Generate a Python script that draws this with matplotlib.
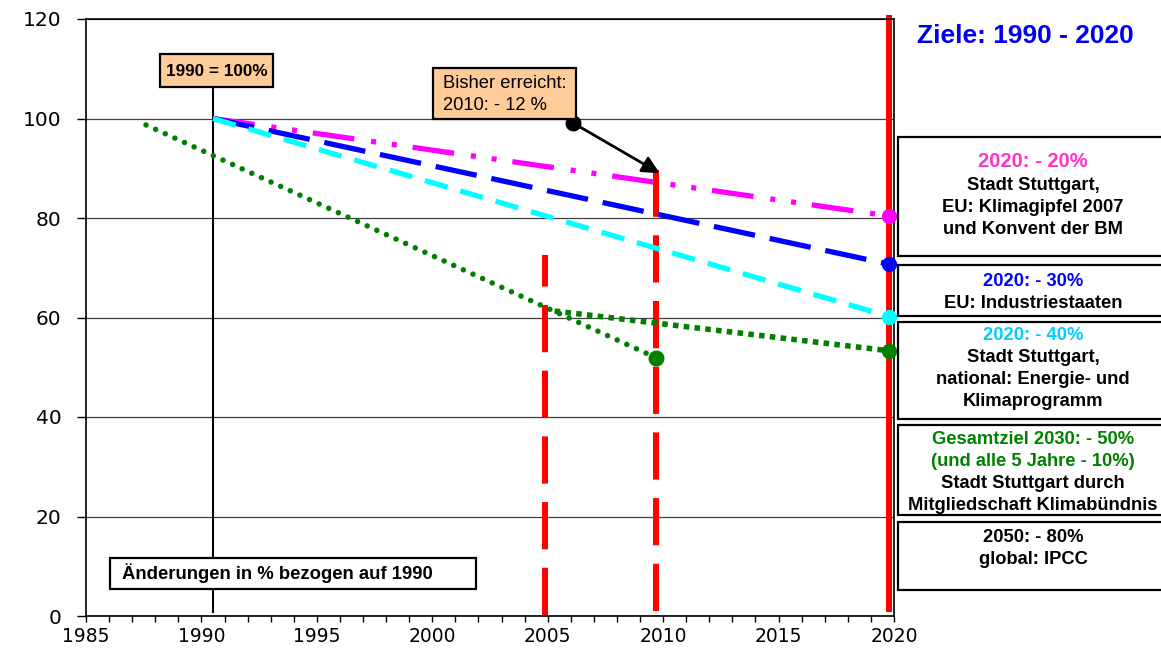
import matplotlib.pyplot as plt
from matplotlib.patches import Rectangle

plt.rcParams['lines.scale_dashes'] = False
plt.rcParams['font.family'] = ['Liberation Sans', 'DejaVu Sans']

# --- data (years, % of 1990) ---
goal_x = [1990.5, 2019.8]
goal_20 = [100, 80.4]
goal_30 = [100, 70.7]
goal_40 = [100, 60.2]

trend_x = [1987.6, 2009.7]
trend_y = [98.7, 51.9]
rest_x = [2005.3, 2019.8]
rest_y = [61.3, 53.3]

mark_2005_x = [2004.9, 2004.9]
mark_2005_y = [0.2, 72.6]
mark_2010_x = [2009.7, 2009.7]
mark_2010_y = [1.0, 89.6]
mark_2020_x = [2019.8, 2019.8]
mark_2020_y = [0.8, 120.8]
base_x = [1990.5, 1990.5]
base_y = [0.8, 106.3]

arrow_from = (2006.1, 99.1)
arrow_to = (2009.85, 89.0)

x_major = list(range(1985, 2021, 5))
x_minor = list(range(1985, 2021))
y_ticks = [0, 20, 40, 60, 80, 100, 120]

PINK_TXT = '#FF33CC'
CYAN_TXT = '#00CCFF'
GREEN = '#008000'
BLUE = '#0000FF'

W, H = 1161, 649
def fx(p):
    return p / W
def fy(p):
    return 1 - p / H

fig = plt.figure(figsize=(W / 100, H / 100), dpi=100)
ax = fig.add_axes([fx(86), fy(616), (894 - 86) / W, (616 - 19) / H])
ax.set_xlim(1985, 2020)
ax.set_ylim(0, 120)

for s in ax.spines.values():
    s.set_color('black')
    s.set_linewidth(1.2)

ax.set_yticks(y_ticks)
ax.set_xticks(x_major)
ax.set_xticks(x_minor, minor=True)
ax.tick_params(axis='y', length=6.5, width=1, pad=11, labelsize=14.5)
ax.tick_params(axis='x', which='both', length=4.5, width=1, pad=3.5, labelsize=13.5)
for lab in ax.get_xticklabels() + ax.get_yticklabels():
    lab.set_family('DejaVu Sans')
ax.yaxis.grid(True, color='#404040', lw=0.9)
ax.set_axisbelow(True)

# red year markers
ax.plot(mark_2005_x, mark_2005_y, color='red', lw=4.3, dashes=(34, 13.3),
        dash_capstyle='butt', zorder=2)
ax.plot(mark_2010_x, mark_2010_y, color='red', lw=4.3, dashes=(34, 13.3),
        dash_capstyle='butt', zorder=2)
ax.plot(mark_2020_x, mark_2020_y, color='red', lw=4.3, solid_capstyle='butt',
        zorder=2, clip_on=False)
ax.plot(base_x, base_y, color='black', lw=1.5, zorder=2)

# goal lines
ax.plot(goal_x, goal_20, color='#FF00FF', lw=3.8,
        dashes=(30.2, 12.2, 3.6, 11.5, 3.6, 11.5), dash_capstyle='butt', zorder=3)
ax.plot(goal_x, goal_30, color=BLUE, lw=3.8, dashes=(30.2, 10.8),
        dash_capstyle='butt', zorder=3)
ax.plot(goal_x, goal_40, color='#00FFFF', lw=3.8, dashes=(17, 9.5),
        dash_capstyle='butt', zorder=3)
ax.plot(trend_x, trend_y, color=GREEN, lw=4.0, dashes=(0.01, 7.6),
        dash_capstyle='round', zorder=3)
ax.plot(rest_x, rest_y, color=GREEN, lw=4.0, dashes=(4.0, 3.8),
        dash_capstyle='butt', zorder=3)

ax.plot(goal_x[-1], goal_20[-1], 'o', color='#FF00FF', ms=10, zorder=4, clip_on=False)
ax.plot(goal_x[-1], goal_30[-1], 'o', color=BLUE, ms=10, zorder=4, clip_on=False)
ax.plot(goal_x[-1], goal_40[-1], 'o', color='#00FFFF', ms=10, zorder=4, clip_on=False)
ax.plot(rest_x[-1], rest_y[-1], 'o', color=GREEN, ms=10, zorder=4, clip_on=False)
ax.plot(trend_x[-1], trend_y[-1], 'o', color=GREEN, ms=10.5, zorder=4)

# arrow "Bisher erreicht"
ax.plot(*arrow_from, 'o', color='black', ms=10.5, zorder=5)
ax.annotate('', xy=arrow_to, xytext=arrow_from,
            arrowprops=dict(arrowstyle='-|>', color='black', lw=2,
                            mutation_scale=26, shrinkA=0, shrinkB=0), zorder=5)


def box(x0, y0, x1, y1, face='white', lw=1.6):
    fig.patches.append(Rectangle((fx(x0), fy(y1)), fx(x1) - fx(x0), fy(y0) - fy(y1),
                                 transform=fig.transFigure, facecolor=face,
                                 edgecolor='black', lw=lw, zorder=6))


def line(txt, x, y, color='black', size=12.5, weight='bold', ha='center'):
    fig.text(fx(x), fy(y), txt, color=color, fontsize=size, fontweight=weight,
             ha=ha, va='center', zorder=7)


# boxes inside the plot
box(160, 54, 273, 87, face='#FFCC99')
line('1990 = 100%', 216.5, 71, size=12.3)
box(433, 68, 576, 119, face='#FFCC99')
line('Bisher erreicht:', 443, 83, size=13.2, weight='normal', ha='left')
line('2010: - 12 %', 443, 106, size=13.2, weight='normal', ha='left')
box(110, 558, 476, 589)
line('Änderungen in % bezogen auf 1990', 122, 573.5, size=13.3, ha='left')

# right panel
line('Ziele: 1990 - 2020', 1025, 36, color='#0000EE', size=19)

right_boxes = [
    (137, 256), (265, 316), (322, 419), (425, 515), (522, 590),
]
for y0, y1 in right_boxes:
    box(898, y0, 1163, y1)

box_lines = [
    ('2020: - 20%', PINK_TXT, 161),
    ('Stadt Stuttgart,', 'black', 185),
    ('EU: Klimagipfel 2007', 'black', 208),
    ('und Konvent der BM', 'black', 230),
    ('2020: - 30%', BLUE, 282),
    ('EU: Industriestaaten', 'black', 303),
    ('2020: - 40%', CYAN_TXT, 335),
    ('Stadt Stuttgart,', 'black', 358),
    ('national: Energie- und', 'black', 380),
    ('Klimaprogramm', 'black', 402),
    ('Gesamtziel 2030: - 50%', GREEN, 439),
    ('(und alle 5 Jahre - 10%)', GREEN, 462),
    ('Stadt Stuttgart durch', 'black', 484),
    ('Mitgliedschaft Klimabündnis', 'black', 506),
    ('2050: - 80%', 'black', 538),
    ('global: IPCC', 'black', 559),
]
for txt, col, y in box_lines:
    line(txt, 1033, y, color=col, size=14.5 if col == PINK_TXT else 13.2)

fig.savefig('out.png', dpi=100)
